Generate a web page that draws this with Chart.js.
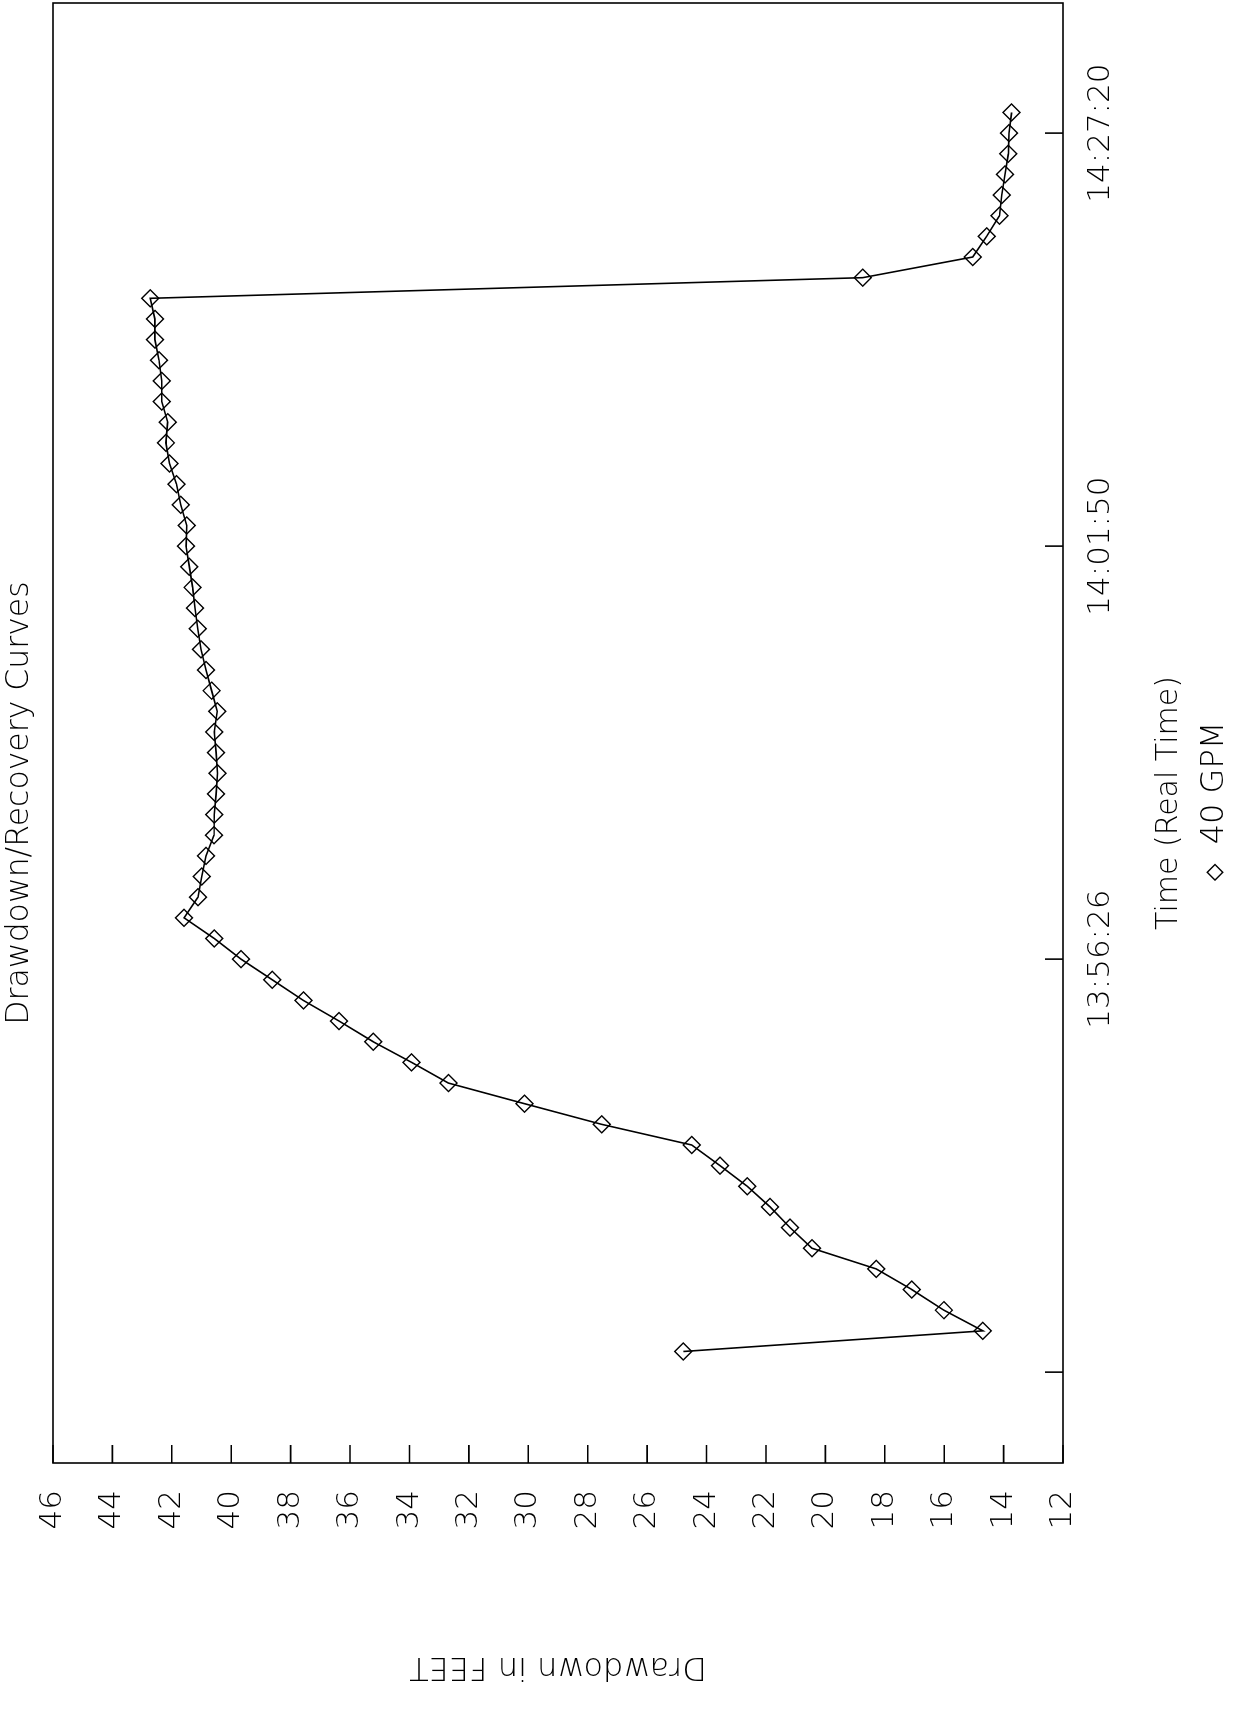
<!DOCTYPE html>
<html>
<head>
<meta charset="utf-8">
<script src="https://cdn.jsdelivr.net/npm/chart.js@4/dist/chart.umd.min.js"></script>
<style>
html, body { margin: 0; padding: 0; background: #fff; width: 1235px; height: 1721px; overflow: hidden; }
#wrap { position: absolute; left: 0; top: 0; width: 1721px; height: 1245px; background: #fff;
        transform-origin: 0 0; transform: translate(0px, 1721px) rotate(-90deg); }
canvas { display: block; }
</style>
</head>
<body>
<div id="wrap"><canvas id="c" width="1721" height="1245"></canvas></div>
<script>
// ---- texts ----
const chartTitle = 'Drawdown/Recovery Curves';
const xAxisTitle = 'Time (Real Time)';
const yAxisTitle = 'Drawdown in FEET';
const seriesName = '40 GPM';

// ---- data ----
const readings = [1, 2, 3, 4, 5, 6, 7, 8, 9, 10,
                  11, 12, 13, 14, 15, 16, 17, 18, 19, 20,
                  21, 22, 23, 24, 25, 26, 27, 28, 29, 30,
                  31, 32, 33, 34, 35, 36, 37, 38, 39, 40,
                  41, 42, 43, 44, 45, 46, 47, 48, 49, 50,
                  51, 52, 53, 54, 55, 56, 57, 58, 59, 60, 61];
const drawdownFeet = [24.78, 14.70, 16.01, 17.09, 18.29, 20.45, 21.19, 21.86, 22.63, 23.55,
                      24.50, 27.53, 30.13, 32.69, 33.93, 35.22, 36.37, 37.57, 38.62, 39.67,
                      40.57, 41.59, 41.12, 40.99, 40.85, 40.58, 40.57, 40.51, 40.46, 40.51,
                      40.57, 40.47, 40.66, 40.85, 41.02, 41.13, 41.22, 41.30, 41.41, 41.52,
                      41.50, 41.70, 41.84, 42.08, 42.20, 42.14, 42.34, 42.34, 42.43, 42.57,
                      42.57, 42.73, 18.74, 15.04, 14.57, 14.14, 14.06, 13.95, 13.84, 13.82, 13.73];

// ---- ticks ----
const timeTickPositions = [0, 20, 40, 60];
const timeTickLabels = ['', '13:56:26', '14:01:50', '14:27:20'];
const drawdownTicks = [12, 14, 16, 18, 20, 22, 24, 26, 28, 30, 32, 34, 36, 38, 40, 42, 44, 46];

const FONT = 'DejaVu Sans';
const INK = '#000';

const frameAndTicks = {
  id: 'frameAndTicks',
  afterDraw(chart) {
    const { ctx, chartArea: a, scales: { x, y } } = chart;
    ctx.save();
    ctx.strokeStyle = INK;
    ctx.lineWidth = 1.6;
    ctx.strokeRect(a.left, a.top, a.right - a.left, a.bottom - a.top);
    ctx.beginPath();
    y.ticks.forEach(t => {
      const p = y.getPixelForValue(t.value);
      ctx.moveTo(a.left, p); ctx.lineTo(a.left + 18, p);
    });
    x.ticks.forEach(t => {
      const p = x.getPixelForValue(t.value);
      ctx.moveTo(p, a.bottom); ctx.lineTo(p, a.bottom - 18);
    });
    ctx.stroke();
    ctx.restore();
  }
};

new Chart(document.getElementById('c'), {
  type: 'line',
  data: {
    datasets: [{
      label: seriesName,
      data: readings.map((r, i) => ({ x: r, y: drawdownFeet[i] })),
      borderColor: INK,
      borderWidth: 1.6,
      tension: 0,
      fill: false,
      pointStyle: 'rectRot',
      pointRadius: 8.5,
      pointBorderWidth: 1.4,
      pointBorderColor: INK,
      pointBackgroundColor: 'rgba(0,0,0,0)'
    }]
  },
  options: {
    responsive: false,
    animation: false,
    devicePixelRatio: 1,
    layout: { autoPadding: false, padding: { left: 118, right: 3, top: 0, bottom: 4 } },
    plugins: {
      title: {
        display: true, text: chartTitle, color: INK,
        font: { family: FONT, size: 31.5, weight: 300 },
        padding: { top: 1.3, bottom: 13.9 }
      },
      subtitle: {
        display: true, text: xAxisTitle, position: 'bottom', weight: 500, color: INK,
        font: { family: FONT, size: 30, weight: 300 },
        padding: { top: 26, bottom: 0 }
      },
      legend: {
        display: true, position: 'bottom',
        labels: {
          color: INK, usePointStyle: true, boxWidth: 24, boxHeight: 11, padding: 12,
          font: { family: FONT, size: 32, weight: 300 }
        }
      },
      tooltip: { enabled: false }
    },
    scales: {
      x: {
        type: 'linear', position: 'bottom', min: -4.4, max: 66.3,
        afterBuildTicks: s => { s.ticks = timeTickPositions.map(v => ({ value: v })); },
        afterFit: s => { s.height = 62; },
        grid: { display: false, drawTicks: false },
        border: { display: false },
        ticks: {
          autoSkip: false, maxRotation: 0, padding: 19, color: INK,
          font: { family: FONT, size: 31, weight: 300 },
          callback: (v, i) => timeTickLabels[i]
        }
      },
      y: {
        type: 'linear', position: 'left', min: 12, max: 46,
        afterBuildTicks: s => { s.ticks = drawdownTicks.map(v => ({ value: v })); },
        afterFit: s => { s.width = 140; },
        grid: { display: false, drawTicks: false },
        border: { display: false },
        ticks: {
          autoSkip: false, padding: 27, color: INK,
          font: { family: FONT, size: 31, weight: 300 }
        },
        title: {
          display: true, text: yAxisTitle, color: INK,
          font: { family: FONT, size: 32, weight: 300 },
          padding: { top: -83, bottom: 0 }
        }
      }
    }
  },
  plugins: [frameAndTicks]
});
</script>
</body>
</html>
